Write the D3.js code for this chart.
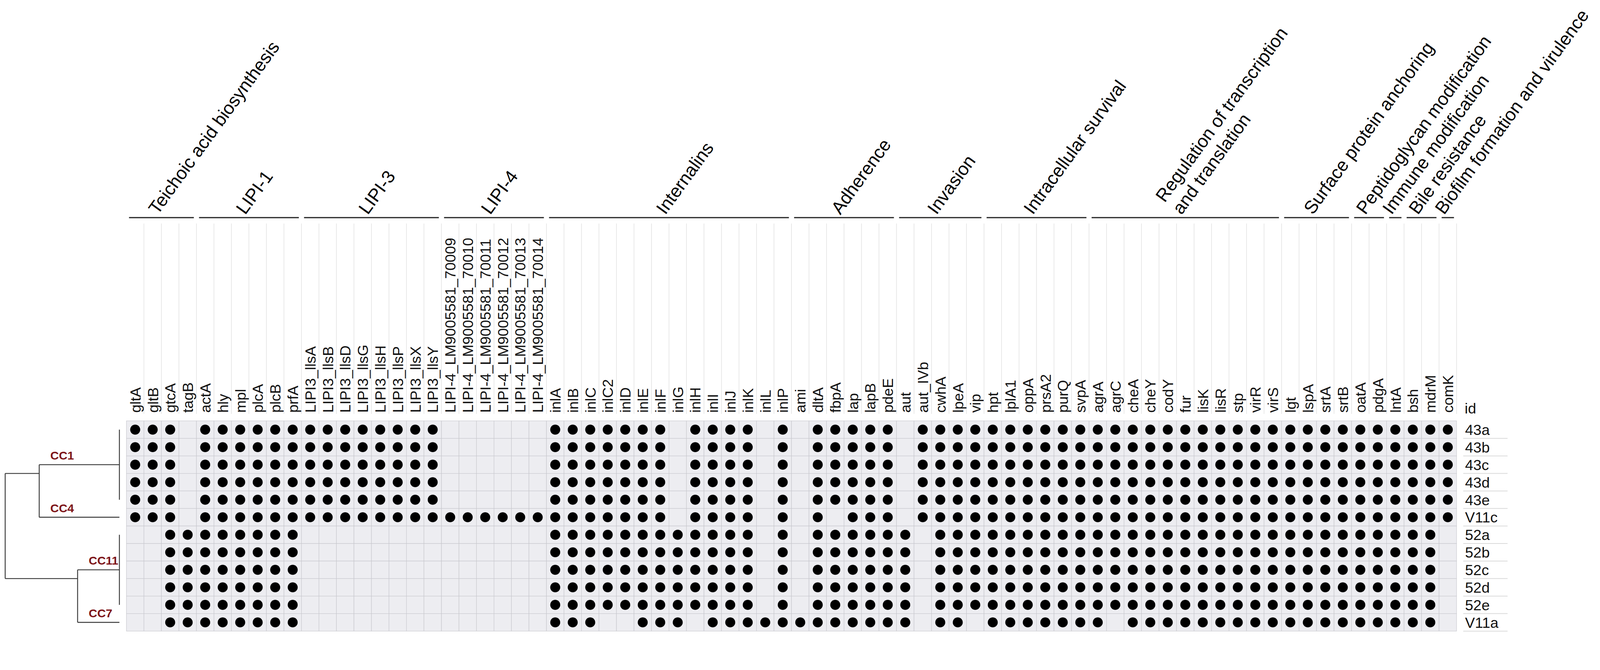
<!DOCTYPE html>
<html>
<head>
<meta charset="utf-8">
<script src="https://cdn.jsdelivr.net/npm/d3@7"></script>
<style>
  html, body { margin: 0; padding: 0; background: #fff; overflow: hidden; }
  svg { display: block; width: 100vw; height: 100vh; font-family: "Liberation Sans", Arial, Helvetica, sans-serif; }
</style>
</head>
<body>
<div id="chart"></div>
<script>
// gene groups (category headers) and the genes under each one
const groupNames = [
  "Teichoic acid biosynthesis", "LIPI-1", "LIPI-3", "LIPI-4", "Internalins",
  "Adherence", "Invasion", "Intracellular survival",
  "Regulation of transcription\nand translation", "Surface protein anchoring",
  "Peptidoglycan modification", "Immune modification", "Bile resistance",
  "Biofilm formation and virulence"
];
const groupGenes = [
  ["gltA", "gltB", "gtcA", "tagB"],
  ["actA", "hly", "mpl", "plcA", "plcB", "prfA"],
  ["LIPI3_llsA", "LIPI3_llsB", "LIPI3_llsD", "LIPI3_llsG", "LIPI3_llsH", "LIPI3_llsP", "LIPI3_llsX", "LIPI3_llsY"],
  ["LIPI-4_LM9005581_70009", "LIPI-4_LM9005581_70010", "LIPI-4_LM9005581_70011",
   "LIPI-4_LM9005581_70012", "LIPI-4_LM9005581_70013", "LIPI-4_LM9005581_70014"],
  ["inlA", "inlB", "inlC", "inlC2", "inlD", "inlE", "inlF", "inlG", "inlH", "inlI", "inlJ", "inlK", "inlL", "inlP"],
  ["ami", "dltA", "fbpA", "lap", "lapB", "pdeE"],
  ["aut", "aut_IVb", "cwhA", "lpeA", "vip"],
  ["hpt", "lplA1", "oppA", "prsA2", "purQ", "svpA"],
  ["agrA", "agrC", "cheA", "cheY", "codY", "fur", "lisK", "lisR", "stp", "virR", "virS"],
  ["lgt", "lspA", "srtA", "srtB"],
  ["oatA", "pdgA"],
  ["lntA"],
  ["bsh", "mdrM"],
  ["comK"]
];

// isolates (rows) and gene presence (1) / absence (0), one char per gene, grouped by category
const rowIds = ["43a", "43b", "43c", "43d", "43e", "V11c", "52a", "52b", "52c", "52d", "52e", "V11a"];
const presence = [
  "1110 111111 11111111 000000 11111110111101 011111 01111 111111 11111111111 1111 11 1 11 1",
  "1110 111111 11111111 000000 11111110111101 011111 01111 111111 11111111111 1111 11 1 11 1",
  "1110 111111 11111111 000000 11111110111101 011111 01111 111111 11111111111 1111 11 1 11 1",
  "1110 111111 11111111 000000 11111110111101 011111 01111 111111 11111111111 1111 11 1 11 1",
  "1110 111111 11111111 000000 11111110111101 011111 01111 111111 11111111111 1111 11 1 11 1",
  "1110 111111 11111111 111111 11111110111101 010111 01111 111111 11111111111 1111 11 1 11 1",
  "0011 111111 00000000 000000 11111111111101 011111 10111 111111 11111111111 1111 11 1 11 0",
  "0011 111111 00000000 000000 11111111111101 011111 10111 111111 11111111111 1111 11 1 11 0",
  "0011 111111 00000000 000000 11111111111101 011111 10111 111111 11111111111 1111 11 1 11 0",
  "0011 111111 00000000 000000 11111111111101 011111 10111 111111 11111111111 1111 11 1 11 0",
  "0011 111111 00000000 000000 11111111111101 011111 10111 111111 11111111111 1111 11 1 11 0",
  "0011 111111 00000000 000000 11100111011111 111111 10110 111111 10111111111 1111 11 1 11 0"
];

// clonal-complex tree: relative branch depth (0 = root, 1 = tips)
const tree = {
  depth: 0,
  children: [
    { depth: 0.298, children: [
      { depth: 1, label: "CC1", leaves: ["43a", "43b", "43c", "43d", "43e"] },
      { depth: 1, label: "CC4", leaves: ["V11c"] }
    ]},
    { depth: 0.634, children: [
      { depth: 1, label: "CC11", leaves: ["52a", "52b", "52c", "52d", "52e"] },
      { depth: 1, label: "CC7", leaves: ["V11a"] }
    ]}
  ]
};

const width = 4328, height = 1716;
const genes = groupGenes.flat();

// drawn in a fixed 4328x1716 user space, scaled to the viewport, pinned to the top
const svg = d3.select("#chart").append("svg")
    .attr("viewBox", "0 0 " + width + " " + height)
    .attr("preserveAspectRatio", "xMidYMin meet");

const x = d3.scaleBand().domain(genes).range([342, 3940]);
const y = d3.scaleBand().domain(rowIds).range([1139, 1708]);
const xTree = d3.scaleLinear().domain([0, 1]).range([14, 323]);

// header guide lines at the right edge of each column
svg.append("g")
  .selectAll("line")
  .data(genes)
  .enter().append("line")
    .attr("x1", d => x(d) + x.bandwidth())
    .attr("x2", d => x(d) + x.bandwidth())
    .attr("y1", 605)
    .attr("y2", 1120)
    .attr("stroke", "#e0e0e0")
    .attr("stroke-width", 1.5);

// gene labels
svg.append("g")
  .selectAll("text")
  .data(genes)
  .enter().append("text")
    .attr("transform", d => "translate(" + (x(d) + x.bandwidth() / 2) + ",1117) rotate(-90)")
    .attr("dy", "0.36em")
    .attr("font-size", 40)
    .attr("fill", "#111")
    .text(d => d);

// group brackets and slanted titles
let start = 0;
const groupData = groupNames.map((name, i) => {
  const first = genes[start], last = genes[start + groupGenes[i].length - 1];
  start += groupGenes[i].length;
  return { name: name, x0: x(first) + 7, x1: x(last) + x.bandwidth() - 7 };
});

const grp = svg.append("g").selectAll("g")
  .data(groupData)
  .enter().append("g");

grp.append("line")
    .attr("x1", d => d.x0)
    .attr("x2", d => d.x1)
    .attr("y1", 589)
    .attr("y2", 589)
    .attr("stroke", "#333")
    .attr("stroke-width", 3.5);

grp.append("text")
    .attr("transform", d => "translate(" + ((d.x0 + d.x1) / 2 - 10) + ",583) rotate(-54)")
    .attr("font-size", 49)
    .attr("fill", "#000")
    .each(function(d) {
      const lines = d.name.split("\n");
      d3.select(this).selectAll("tspan")
        .data(lines)
        .enter().append("tspan")
          .attr("x", 0)
          .attr("dy", (l, i) => i === 0 ? -(lines.length - 1) * 1.15 + "em" : "1.15em")
          .text(l => l);
    });

// presence / absence grid
const cells = [];
rowIds.forEach((id, r) => {
  const bits = presence[r].replace(/ /g, "");
  genes.forEach((g, c) => cells.push({ id: id, gene: g, present: bits[c] === "1" }));
});

svg.append("g")
  .selectAll("rect")
  .data(cells)
  .enter().append("rect")
    .attr("x", d => x(d.gene))
    .attr("y", d => y(d.id))
    .attr("width", x.bandwidth())
    .attr("height", y.bandwidth())
    .attr("fill", "#ededf1")
    .attr("stroke", "#c8c8ce")
    .attr("stroke-width", 1.2);

svg.append("g")
  .selectAll("circle")
  .data(cells.filter(d => d.present))
  .enter().append("circle")
    .attr("cx", d => x(d.gene) + x.bandwidth() / 2)
    .attr("cy", d => y(d.id) + y.bandwidth() / 2)
    .attr("r", 13.5)
    .attr("fill", "#000");

// row labels
svg.append("text")
    .attr("x", 3962)
    .attr("y", 1119)
    .attr("font-size", 40)
    .attr("fill", "#111")
    .text("id");

const rowLab = svg.append("g").selectAll("g")
  .data(rowIds)
  .enter().append("g");

rowLab.append("line")
    .attr("x1", 3958)
    .attr("x2", 4078)
    .attr("y1", d => y(d) + y.bandwidth())
    .attr("y2", d => y(d) + y.bandwidth())
    .attr("stroke", "#dadada")
    .attr("stroke-width", 2);

rowLab.append("text")
    .attr("x", 3963)
    .attr("y", d => y(d) + y.bandwidth() / 2)
    .attr("dy", "0.36em")
    .attr("font-size", 40)
    .attr("fill", "#111")
    .text(d => d);

// dendrogram: node y = mean of the tip rows below it
const root = d3.hierarchy(tree);
const rowMid = id => y(id) + y.bandwidth() / 2;
root.each(n => {
  n.px = xTree(n.data.depth);
  n.py = d3.mean(n.leaves().flatMap(l => l.data.leaves), rowMid);
});

const dg = svg.append("g")
    .attr("stroke", "#3a3a3a")
    .attr("stroke-width", 2.5)
    .attr("fill", "none");

root.descendants().forEach(n => {
  if (n.children) {
    dg.append("line")
      .attr("x1", n.px).attr("x2", n.px)
      .attr("y1", d3.min(n.children, c => c.py))
      .attr("y2", d3.max(n.children, c => c.py));
    n.children.forEach(c => {
      dg.append("line")
        .attr("x1", n.px).attr("x2", c.px)
        .attr("y1", c.py).attr("y2", c.py);
    });
  } else if (n.data.leaves.length > 1) {
    dg.append("line")
      .attr("x1", n.px).attr("x2", n.px)
      .attr("y1", rowMid(n.data.leaves[0]))
      .attr("y2", rowMid(n.data.leaves[n.data.leaves.length - 1]));
  }
});

svg.append("g")
  .selectAll("text")
  .data(root.leaves())
  .enter().append("text")
    .attr("x", d => d.parent.px + 30)
    .attr("y", d => d.py - 14)
    .attr("font-size", 32)
    .attr("font-weight", "bold")
    .attr("fill", "#7d1418")
    .text(d => d.data.label);
</script>
</body>
</html>
